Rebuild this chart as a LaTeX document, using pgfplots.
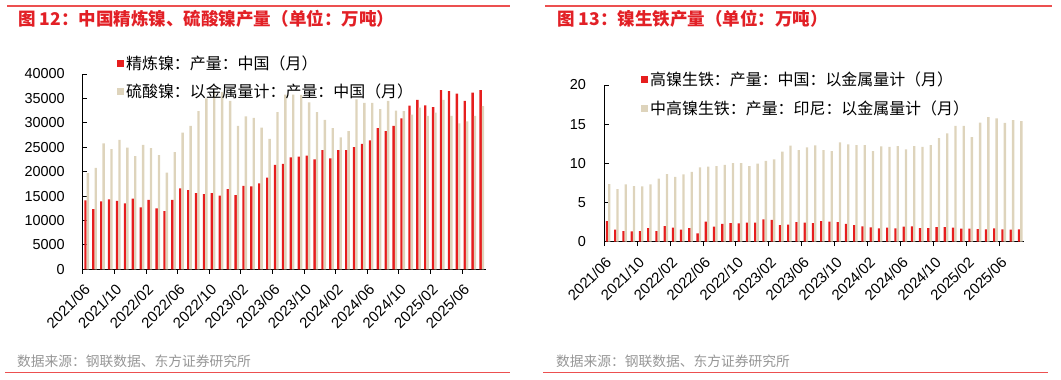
\documentclass[border=0pt]{standalone}
\usepackage{pgfplots}
\pgfplotsset{compat=1.18}
\usepackage{pgfplotstable}
\usepackage{fontspec}
\setmainfont{Liberation Sans}
\newfontfamily\cjk{Noto Sans CJK SC}
\definecolor{myred}{RGB}{230,30,30}
\definecolor{titlered}{RGB}{226,32,38}
\definecolor{linered}{RGB}{236,80,80}
\definecolor{beige}{RGB}{222,212,188}
\definecolor{srcgray}{RGB}{150,150,150}

% China refined nickel / nickel sulphate (t, monthly)
\pgfplotstableread{
r b
14100 19700
12300 20750
13900 25800
14300 24600
14000 26500
13500 24900
14500 23200
12700 25500
14200 24800
12500 23400
11900 19800
14200 24000
16600 28000
16200 29400
15600 32400
15400 35000
15600 36300
15100 36300
16400 34500
15200 29400
17100 31300
17000 31000
17600 29000
18800 26700
21400 32200
21600 35800
22900 35800
23100 35700
23300 34200
22500 32200
24400 30600
22700 28900
24400 27000
24400 28300
25000 34800
25700 34100
26400 34100
28900 32800
28300 34500
29400 32500
30900 32400
33500 31700
34700 33100
33600 31400
33200 32100
36700 34700
36500 31400
36000 29900
34500 30300
36200 31400
36700 33400
}\leftdata

% NPI output (10kt, metal content)
\pgfplotstableread{
r b
2.64 7.36
1.53 6.72
1.36 7.32
1.32 7.10
1.36 7.06
1.74 7.32
1.36 8.04
2.00 8.64
1.79 8.26
1.53 8.60
1.74 8.90
1.06 9.49
2.55 9.57
1.91 9.66
2.26 9.79
2.38 10.04
2.34 10.04
2.43 9.66
2.43 9.96
2.85 10.30
2.77 10.51
2.13 11.49
2.17 12.26
2.51 11.70
2.43 12.04
2.38 12.30
2.64 11.70
2.55 11.57
2.51 12.68
2.26 12.43
2.13 12.34
1.96 12.34
1.83 11.57
1.70 12.17
1.79 12.09
1.70 12.21
1.91 11.79
1.96 12.21
1.74 12.09
1.74 12.34
1.87 13.23
1.87 13.83
1.79 14.77
1.66 14.77
1.66 13.36
1.62 15.19
1.57 15.91
1.70 15.74
1.57 15.15
1.53 15.53
1.57 15.40
}\rightdata

\pgfplotsset{
  base/.style={
    scale only axis, anchor=south west,
    axis x line*=bottom, axis y line*=left,
    axis line style={black, line width=1bp},
    xmin=0, xmax=51, ymin=0,
    xtick={0,4,...,48},
    xticklabels={2021/06,2021/10,2022/02,2022/06,2022/10,2023/02,2023/06,2023/10,2024/02,2024/06,2024/10,2025/02,2025/06},
    tick align=outside, major tick length=4.5bp,
    tick style={black, line width=0.8bp},
    y tick style={xshift=4.5bp},
    xticklabel style={xshift=7bp, yshift=-11bp, rotate=45, anchor=east, font=\fontsize{15}{15}\selectfont},
    yticklabel style={font=\fontsize{14.5}{14.5}\selectfont, xshift=-10bp,
      /pgf/number format/fixed, /pgf/number format/1000 sep={}},
    /pgf/number format/assume math mode=true,
    scaled y ticks=false,
    ybar, bar width=0.3,
    legend style={draw=none, fill=none, font=\cjk\fontsize{16}{16.5}\selectfont,
      anchor=north west, inner sep=0pt, nodes={inner sep=2bp}},
    legend cell align=left,
    legend image code/.code={\fill[##1] (0bp,-3.5bp) rectangle (7bp,3.5bp);},
  }
}

\begin{document}
\begin{tikzpicture}[x=1bp,y=1bp]
\path[use as bounding box] (0,0) rectangle (1061,379);
% decorative lines
\draw[linered, line width=1.2bp] (7,373) -- (510,373);
\draw[linered, line width=1.2bp] (545,373) -- (1052,373);
\draw[linered, line width=1.2bp] (5,6.3) -- (510,6.3);
\draw[linered, line width=1.2bp] (543,6.3) -- (1048,6.3);
% titles
\node[anchor=west, inner sep=0pt, text=titlered, font=\cjk\bfseries\fontsize{17.6}{17.6}\selectfont] at (18,360) {图 12：中国精炼镍、硫酸镍产量（单位：万吨）};
\node[anchor=west, inner sep=0pt, text=titlered, font=\cjk\bfseries\fontsize{17.6}{17.6}\selectfont] at (557,360) {图 13：镍生铁产量（单位：万吨）};
% sources
\node[anchor=west, inner sep=0pt, text=srcgray, font=\cjk\fontsize{13.8}{14}\selectfont] at (17,18) {数据来源：钢联数据、东方证券研究所};
\node[anchor=west, inner sep=0pt, text=srcgray, font=\cjk\fontsize{13.8}{14}\selectfont] at (556,18) {数据来源：钢联数据、东方证券研究所};

\begin{axis}[base, at={(82.7bp,109.7bp)}, width=403bp, height=195.3bp,
  ymax=40000, ytick={0,5000,...,40000},
  legend style={at={(axis description cs:0.085,1.105)}, row sep=9bp}]
\addplot[fill=myred, draw=none, bar shift=-0.15] table[x expr=\coordindex+0.5, y=r] {\leftdata};
\addplot[fill=beige, draw=none, bar shift=0.15] table[x expr=\coordindex+0.5, y=b] {\leftdata};
\legend{精炼镍：产量：中国（月）, 硫酸镍：以金属量计：产量：中国（月）}
\end{axis}

\begin{axis}[base, at={(604bp,137.3bp)}, width=420.3bp, height=156.7bp,
  ymax=20, ytick={0,5,...,20}, bar width=0.28,
  legend style={at={(axis description cs:0.088,1.10)}, row sep=10bp}]
\addplot[fill=myred, draw=none, bar shift=-0.14] table[x expr=\coordindex+0.5, y=r] {\rightdata};
\addplot[fill=beige, draw=none, bar shift=0.14] table[x expr=\coordindex+0.5, y=b] {\rightdata};
\legend{高镍生铁：产量：中国：以金属量计（月）, 中高镍生铁：产量：印尼：以金属量计（月）}
\end{axis}
\end{tikzpicture}
\end{document}
